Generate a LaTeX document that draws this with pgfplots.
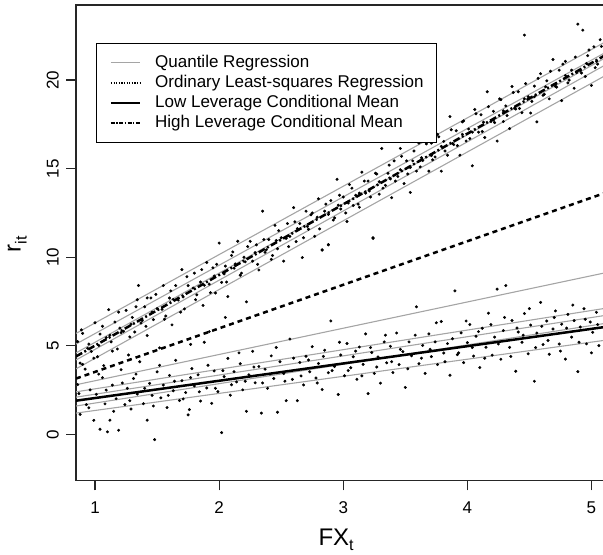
\documentclass[border=0pt]{standalone}
\usepackage{pgfplots}
\pgfplotsset{compat=1.18}
\usepackage{fontspec}
\setmainfont{Liberation Sans}
\definecolor{qgray}{RGB}{165,165,165}
\begin{document}
\begin{tikzpicture}
\useasboundingbox (-76pt,-74pt) rectangle (526.5pt,480pt);
\begin{axis}[
  at={(0pt,0pt)}, anchor=south west,
  scale only axis, width=527pt, height=475pt,
  xmin=0.847, xmax=5.097, ymin=-2.6, ymax=24.24,
  axis line style={black!85, line width=1.3pt},
  xtick={1,2,3,4,5}, ytick={0,5,10,15,20},
  tick pos=left,
  tick align=outside, tick style={black!85, line width=1.3pt},
  major tick length=10pt,
  /pgf/number format/assume math mode=true,
  xticklabel shift=11pt, yticklabel shift=7pt,
  xticklabel style={font=\fontsize{17}{19}\selectfont, anchor=north, inner sep=0pt},
  yticklabel style={font=\fontsize{17}{19}\selectfont, rotate=90, anchor=south, inner sep=0pt},
  every axis x label/.style={at={(axis description cs:0.493,-0.137)}, anchor=base},
  every axis y label/.style={at={(axis description cs:-0.105,0.497)}, anchor=base, rotate=90},
  xlabel={\fontsize{24}{26}\selectfont FX\raisebox{-0.22em}{\fontsize{16}{16}\selectfont t}},
  ylabel={\fontsize{24}{26}\selectfont r\raisebox{-0.25em}{\fontsize{16}{16}\selectfont it}},
  legend image code/.code={\draw[#1] (0pt,0pt) -- (29pt,0pt);},
  legend cell align=left,
  legend style={at={(0.038,0.92)}, anchor=north west, draw=black, line width=1.2pt,
    font=\fontsize{17}{19}\selectfont, inner xsep=13pt, inner ysep=11pt,
    row sep=3.5pt, column sep=14pt,
    nodes={inner sep=0pt, text height=12.5pt, text depth=4pt}},
  clip=true,
]
% high leverage points
\addplot[only marks, mark=*, mark size=1.3pt, black, forget plot] coordinates {
(0.86,5.24)(0.88,4.02)(0.90,5.70)(0.92,3.68)(0.95,5.10)(0.97,4.68)(1.00,6.30)(1.02,4.38)(1.04,5.66)(1.07,3.88)
(1.09,5.46)(1.11,7.04)(1.13,5.22)(1.16,6.34)(1.18,4.82)(1.20,6.00)(1.23,5.82)(1.25,7.00)(1.27,4.48)(1.30,6.60)
(1.32,5.78)(1.35,8.40)(1.37,6.28)(1.40,7.20)(1.42,5.58)(1.45,7.70)(1.47,6.48)(1.50,7.10)(1.52,4.88)(1.55,8.40)
(1.57,6.68)(1.60,7.70)(1.62,6.18)(1.65,8.40)(1.67,7.58)(1.70,9.30)(1.72,7.08)(1.75,8.40)(1.77,5.08)(1.80,9.10)
(1.82,7.88)(1.85,8.60)(1.87,7.28)(1.90,9.70)(1.92,8.48)(1.95,9.40)(1.97,7.98)(2.00,10.80)(2.02,8.58)(2.05,9.50)
(2.07,7.78)(2.10,10.10)(2.12,9.38)(2.15,10.90)(2.17,8.98)(2.20,10.00)(2.22,7.48)(2.25,10.90)(2.27,9.78)(2.30,10.70)
(2.32,9.28)(2.35,12.60)(2.37,10.28)(2.40,11.00)(2.42,9.88)(2.45,11.80)(2.47,10.48)(2.50,11.10)(2.52,9.78)(2.55,11.90)
(2.57,11.18)(2.60,12.80)(2.62,10.88)(2.65,11.90)(2.67,9.98)(2.70,12.60)(2.72,11.58)(2.75,12.50)(2.77,11.18)(2.80,13.30)
(2.83,10.42)(2.85,12.60)(2.88,10.72)(2.90,13.20)(2.93,12.22)(2.95,14.40)(2.98,12.72)(3.00,13.40)(3.03,12.02)(3.05,14.10)
(3.08,12.92)(3.10,13.50)(3.13,12.82)(3.15,14.80)(3.18,13.62)(3.20,14.30)(3.24,11.06)(3.26,14.74)(3.29,13.56)(3.31,16.14)
(3.34,14.06)(3.36,14.74)(3.39,13.36)(3.41,15.44)(3.44,14.56)(3.46,16.14)(3.49,14.16)(3.51,15.44)(3.54,13.66)(3.56,15.44)
(3.59,14.86)(3.61,16.44)(3.64,15.46)(3.66,17.74)(3.69,14.86)(3.71,16.44)(3.74,15.66)(3.76,16.94)(3.79,14.86)(3.81,16.54)
(3.84,15.76)(3.86,17.94)(3.89,16.36)(3.91,17.14)(3.94,15.76)(3.96,17.64)(3.99,16.56)(4.01,17.24)(4.04,15.16)(4.06,18.34)
(4.09,17.06)(4.11,18.04)(4.14,16.76)(4.16,19.34)(4.19,17.66)(4.21,18.24)(4.24,16.56)(4.26,18.94)(4.29,17.66)(4.31,18.54)
(4.34,17.26)(4.36,19.64)(4.39,18.36)(4.41,19.34)(4.44,18.16)(4.46,22.54)(4.49,19.06)(4.51,18.14)(4.54,19.66)(4.56,17.64)
(4.59,20.36)(4.61,19.14)(4.64,19.96)(4.66,18.94)(4.69,21.16)(4.71,19.64)(4.74,20.56)(4.76,18.84)(4.79,21.06)(4.81,19.84)
(4.84,20.56)(4.86,19.54)(4.89,23.16)(4.91,20.54)(4.93,22.82)(4.95,20.20)(4.97,21.38)(5.00,19.70)(5.02,21.88)(5.05,20.90)
(5.07,22.28)
(0.94,4.86)(1.03,5.02)(1.12,5.60)(1.21,5.74)(1.29,6.22)(1.38,6.42)(1.46,6.90)(1.54,7.06)(1.63,7.62)(1.71,7.76)
(1.79,8.26)(1.88,8.42)(1.96,8.94)(2.04,9.06)(2.13,9.62)(2.21,9.74)(2.29,10.26)(2.38,10.42)(2.46,10.94)(2.54,11.06)
(2.63,11.62)(2.71,11.74)(2.79,12.26)(2.88,12.42)(2.96,12.94)(3.04,13.06)(3.13,13.62)(3.21,13.74)(3.29,14.26)(3.38,14.42)
(3.46,14.94)(3.54,15.06)(3.63,15.62)(3.71,15.74)(3.79,16.26)(3.88,16.42)(3.96,16.94)(4.04,17.06)(4.13,17.62)(4.21,17.74)
(4.29,18.26)(4.38,18.42)(4.46,18.94)(4.54,19.06)(4.63,19.62)(4.71,19.74)(4.79,20.26)(4.88,20.42)(4.96,20.94)(5.04,21.06)
(0.89,5.9)(0.99,4.3)(1.06,6.1)(1.14,4.7)(1.19,6.9)(1.28,5.5)(1.33,7.2)(1.41,6.1)(1.49,7.9)(1.56,6.5)
(1.61,8.1)(1.69,6.9)(1.74,8.9)(1.81,7.6)(1.86,9.3)(1.93,8.0)(1.98,9.6)(2.06,8.6)(2.11,10.3)(2.18,9.1)
(2.23,10.6)(2.31,9.6)(2.36,11.0)(2.43,10.1)(2.48,11.5)(2.56,10.6)(2.61,12.0)(2.68,11.1)(2.74,12.4)(2.81,11.6)
(2.86,13.0)(2.92,12.1)(2.97,13.5)(3.02,12.5)(3.07,13.9)(3.12,13.0)(3.17,14.3)(3.22,13.4)(3.27,14.7)(3.32,13.9)
(3.37,15.2)(3.42,14.3)(3.47,15.7)(3.52,14.7)(3.57,16.0)(3.62,15.1)(3.67,16.4)(3.72,15.5)(3.77,16.8)(3.82,16.0)
(3.87,17.2)(3.92,16.3)(3.97,17.7)(4.02,16.7)(4.07,18.1)(4.12,17.1)(4.17,18.5)(4.22,17.6)(4.27,18.9)(4.32,18.0)
(4.37,19.3)(4.42,18.4)(4.47,19.8)(4.52,18.8)(4.57,20.1)(4.62,19.2)(4.67,20.5)(4.72,19.6)(4.77,20.9)(4.82,20.0)
(4.87,21.3)(4.92,20.4)(4.98,21.7)(5.03,20.7)(5.08,21.9)
(2.83,10.4)(2.88,10.7)(3.24,11.1)(1.34,7.6)(1.42,7.7)(2.05,6.6)(1.92,5.8)
};
% low leverage points
\addplot[only marks, mark=*, mark size=1.3pt, black, forget plot] coordinates {
(0.86,2.81)(0.88,1.13)(0.90,3.95)(0.93,1.68)(0.96,2.51)(0.99,0.79)(1.01,2.26)(1.04,0.29)(1.06,3.20)(1.08,1.72)
(1.10,0.14)(1.12,0.80)(1.14,2.78)(1.17,2.01)(1.19,0.23)(1.21,3.65)(1.24,1.68)(1.26,2.60)(1.29,1.43)(1.31,3.15)
(1.34,2.28)(1.36,4.10)(1.39,1.73)(1.42,0.80)(1.44,2.88)(1.46,2.20)(1.48,-0.30)(1.50,3.53)(1.53,2.06)(1.55,2.78)
(1.58,1.51)(1.60,3.33)(1.63,2.46)(1.65,4.18)(1.68,1.91)(1.70,3.03)(1.73,2.36)(1.75,1.10)(1.76,1.40)(1.78,3.71)
(1.80,2.73)(1.83,3.36)(1.85,1.88)(1.88,5.20)(1.90,2.62)(1.94,1.75)(1.96,3.58)(1.99,2.41)(2.02,0.10)(2.04,3.26)
(2.07,4.29)(2.09,2.21)(2.12,3.54)(2.14,2.96)(2.17,3.99)(2.19,2.51)(2.22,1.30)(2.24,3.36)(2.27,4.69)(2.29,2.91)
(2.32,3.83)(2.34,1.20)(2.37,3.68)(2.39,2.60)(2.42,4.43)(2.44,3.15)(2.47,1.25)(2.49,4.10)(2.52,3.43)(2.54,1.90)
(2.57,5.38)(2.59,3.10)(2.63,1.90)(2.65,4.06)(2.68,2.79)(2.70,4.41)(2.73,3.53)(2.75,4.95)(2.78,3.18)(2.80,4.00)
(2.83,2.53)(2.85,4.75)(2.88,3.48)(2.90,6.40)(2.93,3.83)(2.96,2.25)(2.98,4.48)(3.01,3.31)(3.03,5.13)(3.06,3.76)
(3.08,4.38)(3.11,3.11)(3.13,4.93)(3.16,3.95)(3.18,5.67)(3.20,2.30)(3.23,4.62)(3.25,3.44)(3.28,4.37)(3.30,2.89)
(3.33,5.22)(3.35,4.04)(3.38,4.97)(3.40,3.49)(3.43,5.72)(3.45,3.94)(3.48,4.67)(3.50,2.65)(3.53,5.22)(3.55,4.44)
(3.59,7.20)(3.61,3.99)(3.64,5.02)(3.66,3.44)(3.69,5.67)(3.71,4.39)(3.74,5.22)(3.76,3.94)(3.79,6.37)(3.81,4.59)
(3.84,5.12)(3.86,3.34)(3.90,8.10)(3.92,4.50)(3.95,5.73)(3.97,4.05)(4.00,5.18)(4.02,6.20)(4.05,4.42)(4.07,5.54)
(4.10,3.77)(4.12,5.99)(4.15,4.92)(4.17,6.84)(4.20,4.47)(4.22,5.49)(4.24,8.20)(4.27,4.24)(4.29,5.86)(4.31,8.40)
(4.34,4.91)(4.36,6.43)(4.39,3.56)(4.41,5.78)(4.44,5.20)(4.46,6.82)(4.49,4.55)(4.51,6.17)(4.54,3.00)(4.56,5.72)
(4.59,7.45)(4.61,5.07)(4.64,6.40)(4.66,4.52)(4.69,5.95)(4.71,6.97)(4.74,5.10)(4.76,6.22)(4.79,4.25)(4.81,6.77)
(4.84,5.49)(4.86,6.42)(4.89,3.54)(4.91,6.06)(4.94,7.09)(4.96,5.11)(4.99,6.34)(5.01,5.76)(5.04,6.89)(5.06,5.01)
(0.87,2.3)(0.95,1.5)(1.03,3.4)(1.09,2.5)(1.15,1.3)(1.22,2.9)(1.28,1.9)(1.33,3.4)(1.40,2.6)(1.47,1.6)
(1.52,3.9)(1.59,2.2)(1.64,3.0)(1.71,2.0)(1.77,3.2)(1.84,2.4)(1.91,3.9)(1.97,2.6)(2.03,3.6)(2.10,2.8)
(2.16,4.6)(2.21,3.0)(2.28,3.8)(2.35,2.9)(2.41,3.4)(2.46,4.9)(2.53,3.0)(2.60,4.3)(2.66,3.3)(2.72,4.2)
(2.79,2.9)(2.84,4.4)(2.91,3.6)(2.97,5.2)(3.04,3.6)(3.10,4.7)(3.15,3.3)(3.22,4.9)(3.27,3.8)(3.34,5.6)
(3.39,4.1)(3.46,4.8)(3.52,3.7)(3.58,5.6)(3.63,4.3)(3.70,4.8)(3.75,6.3)(3.82,4.1)(3.88,5.4)(3.93,4.6)
(3.99,6.4)(4.04,4.9)(4.09,5.8)(4.14,4.3)(4.19,6.2)(4.25,5.1)(4.30,6.6)(4.35,4.4)(4.40,6.0)(4.45,5.6)
(4.50,7.1)(4.55,4.9)(4.60,6.1)(4.65,5.3)(4.70,6.6)(4.75,4.7)(4.80,6.0)(4.85,7.3)(4.90,5.2)(4.95,6.5)
(5.00,4.6)(5.05,6.2)
};
% quantile regression lines (high group)
\addplot[qgray, line width=1.1pt, forget plot] coordinates {(0.847,5.7)(5.097,22.1)};
\addplot[qgray, line width=1.1pt, forget plot] coordinates {(0.847,5.1)(5.097,21.5)};
\addplot[qgray, line width=1.1pt, forget plot] coordinates {(0.847,4.6)(5.097,21.2)};
\addplot[qgray, line width=1.1pt, forget plot] coordinates {(0.847,4.2)(5.097,20.8)};
\addplot[qgray, line width=1.1pt, forget plot] coordinates {(0.847,3.7)(5.097,20.2)};
% quantile regression lines (low group)
\addplot[qgray, line width=1.1pt, forget plot] coordinates {(0.847,2.8)(5.097,9.1)};
\addplot[qgray, line width=1.1pt, forget plot] coordinates {(0.847,2.4)(5.097,7.1)};
\addplot[qgray, line width=1.1pt, forget plot] coordinates {(0.847,2.1)(5.097,6.7)};
\addplot[qgray, line width=1.1pt, forget plot] coordinates {(0.847,1.6)(5.097,6.25)};
\addplot[qgray, line width=1.1pt, forget plot] coordinates {(0.847,1.2)(5.097,5.3)};
% OLS
\addplot[black, line width=2.5pt, dash pattern=on 5pt off 4pt, forget plot] coordinates {(0.847,3.15)(5.097,13.6)};
% low leverage mean
\addplot[black, line width=2.5pt, forget plot] coordinates {(0.847,1.9)(5.097,6.05)};
% high leverage mean
\addplot[black, line width=2.5pt, dash pattern=on 7pt off 2.5pt on 2pt off 2.5pt, forget plot] coordinates {(0.847,4.4)(5.097,21.35)};
% legend
\addlegendimage{qgray, line width=1.1pt}
\addlegendentry{Quantile Regression}
\addlegendimage{black, line width=1.3pt, dash pattern=on 1.3pt off 1.3pt}
\addlegendentry{Ordinary Least-squares Regression}
\addlegendimage{black, line width=2.4pt}
\addlegendentry{Low Leverage Conditional Mean}
\addlegendimage{black, line width=1.3pt, dash pattern=on 4pt off 1.5pt on 1.3pt off 1.5pt}
\addlegendentry{High Leverage Conditional Mean}
\end{axis}
\end{tikzpicture}
\end{document}
